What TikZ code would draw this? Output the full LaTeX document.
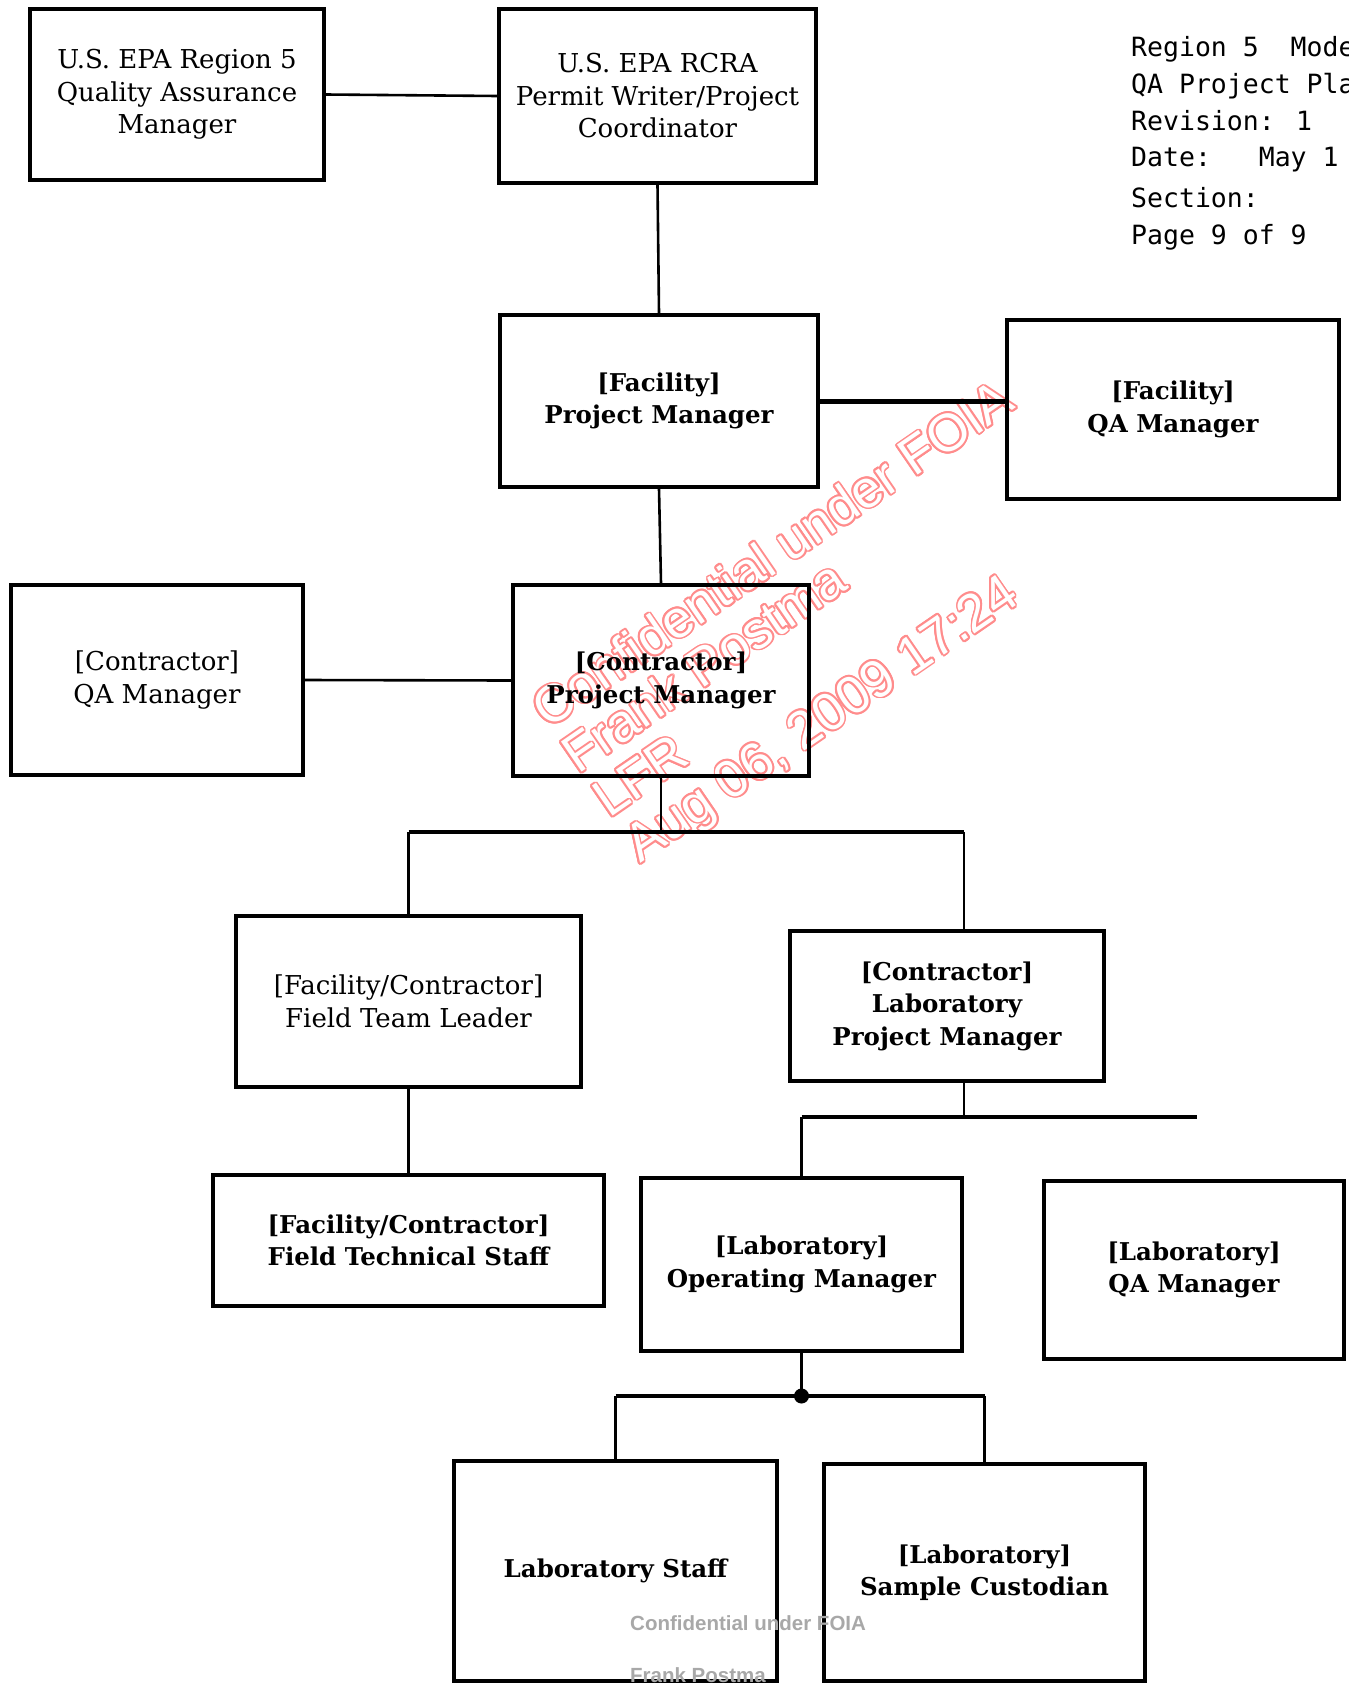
\documentclass[tikz,border=0pt]{standalone}
\usepackage{fontspec}
\setmainfont{DejaVu Serif}
\newfontfamily\hdrfont{DejaVu Sans Mono}
\newfontfamily\wmfont{Liberation Sans}
\usepackage[copies]{contour}
\contourlength{1.8pt}
\contournumber{16}
\definecolor{wmred}{HTML}{FF8C8C}
\definecolor{wmgray}{HTML}{A8A8A8}
\tikzset{
  orgbox/.style={draw, line width=3.5pt, inner sep=0pt, align=center,
    font=\fontsize{26}{32.5}\selectfont},
  heavy/.style={font=\fontsize{24.5}{32.5}\selectfont\bfseries},
  conn/.style={line width=2.6pt},
  bar/.style={line width=3.8pt},
  hdr/.style={anchor=base west, inner sep=0pt, font=\hdrfont\fontsize{26.5}{30}\selectfont},
  wm/.style={anchor=base west, inner sep=0pt, rotate=34.5,
    font=\wmfont\fontsize{53}{54}\selectfont},
  wmg/.style={anchor=base west, inner sep=0pt, text=wmgray,
    font=\wmfont\bfseries\fontsize{20.5}{22}\selectfont},
}
\newcommand{\outl}[1]{\contour{wmred}{\textcolor{white}{#1}}}
\begin{document}
\begin{tikzpicture}[x=1pt,y=-1pt]
\useasboundingbox (0,0) rectangle (1349,1684);
\fill[white] (0,0) rectangle (1349,1684);
\clip (0,0) rectangle (1349,1684);

% red watermark (outlined letters)
\node[wm] (w1) at (548,730) {\outl{Confidential under FOIA}};
\node[wm] (w2) at (578,775) {\outl{Frank Postma}};
\node[wm] (w3) at (609,819) {\outl{LFR}};
\node[wm] (w4) at (640,864) {\outl{Aug 06, 2009 17:24}};

% boxes
\node[orgbox, minimum width=294, minimum height=171] (n1) at (177,94.5)
  {U.S. EPA Region 5\\Quality Assurance\\Manager};
\node[orgbox, minimum width=317, minimum height=174] (n2) at (657.5,96)
  {U.S. EPA RCRA\\Permit Writer/Project\\Coordinator};
\node[orgbox, heavy, minimum width=318, minimum height=172] (n3) at (659,401)
  {[Facility]\\Project Manager};
\node[orgbox, heavy, minimum width=332, minimum height=179] (n4) at (1173,409.5)
  {[Facility]\\QA Manager};
\node[orgbox, minimum width=292, minimum height=190] (n5) at (157,680)
  {[Contractor]\\QA Manager};
\node[orgbox, heavy, minimum width=296, minimum height=191] (n6) at (661,680.5)
  {[Contractor]\\Project Manager};
\node[orgbox, minimum width=345, minimum height=171] (n7) at (408.5,1001.5)
  {[Facility/Contractor]\\Field Team Leader};
\node[orgbox, heavy, minimum width=314, minimum height=150] (n8) at (947,1006)
  {[Contractor]\\Laboratory\\Project Manager};
\node[orgbox, heavy, minimum width=391, minimum height=131] (n9) at (408.5,1240.5)
  {[Facility/Contractor]\\Field Technical Staff};
\node[orgbox, heavy, minimum width=321, minimum height=173] (n10) at (801.5,1264.5)
  {[Laboratory]\\Operating Manager};
\node[orgbox, heavy, minimum width=300, minimum height=178] (n11) at (1194,1270)
  {[Laboratory]\\QA Manager};
\node[orgbox, heavy, minimum width=323, minimum height=220] (n12) at (615.5,1571)
  {Laboratory Staff};
\node[orgbox, heavy, minimum width=321, minimum height=217] (n13) at (984.5,1572.5)
  {[Laboratory]\\Sample Custodian};

% connectors
\draw[conn] (n1.east) -- (n2.west);
\draw[conn] (n2.south) -- (n3.north);
\draw[line width=5pt] (n3.east) -- (n3.east -| n4.west);
\draw[conn] (n3.south) -- (n6.north);
\draw[conn] (n5.east) -- (n6.west);

\coordinate (b1) at (661,832);
\coordinate (b1l) at (408.5,832);
\coordinate (b1r) at (964,832);
\draw[conn] (n6.south) -- (b1);
\draw[bar] (b1l) -- (b1r);
\draw[conn] (b1l) -- (b1l |- n7.north);
\draw[conn] (b1r) -- (b1r |- n8.north);
\draw[conn] (n7.south) -- (n9.north);

\coordinate (b2) at (964,1117);
\coordinate (b2l) at (801.5,1117);
\coordinate (b2r) at (1197,1117);
\draw[conn] (b2 |- n8.south) -- (b2);
\draw[bar] (b2l) -- (b2r);
\draw[conn] (b2l) -- (n10.north);

\coordinate (b3) at (801.5,1396);
\coordinate (b3l) at (615.5,1396);
\coordinate (b3r) at (984.5,1396);
\draw[conn] (n10.south) -- (b3);
\draw[bar] (b3l) -- (b3r);
\draw[conn] (b3l) -- (n12.north);
\draw[conn] (b3r) -- (n13.north);
\fill (b3) circle[radius=7.5pt];

% header
\node[hdr] (h1) at (1131,56) {Region 5\ \ Model};
\node[hdr] (h2) at (1131,93) {QA Project Plan};
\node[hdr] (h3) at (1131,130) {Revision: 1};
\node[hdr] (h4) at (1131,166) {Date:\ \ \ May 1};
\node[hdr] (h5) at (1131,207) {Section:};
\node[hdr] (h6) at (1131,244) {Page 9 of 9};

% grey watermark
\node[wmg] (g1) at (630,1630) {Confidential under FOIA};
\node[wmg] (g2) at (630,1682) {Frank Postma};
\end{tikzpicture}
\end{document}
